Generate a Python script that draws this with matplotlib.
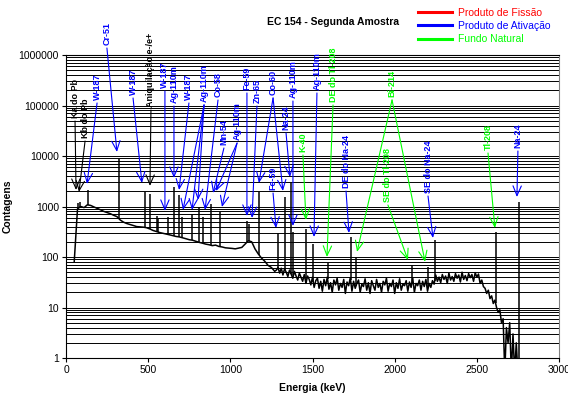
import numpy as np
import matplotlib
matplotlib.use('Agg')
import matplotlib.pyplot as plt
from matplotlib.lines import Line2D

plt.rcParams['font.family'] = ['Liberation Sans', 'DejaVu Sans']

# background continuum below 1280 keV, one value every 20 keV from 50 keV
low_start = 50
low_step = 20
low_counts = [
    80, 900, 1000, 950, 1080, 1050, 980, 920, 860, 800,
    760, 720, 670, 630, 540, 490, 460, 440, 420, 400,
    395, 390, 380, 360, 335, 320, 305, 295, 285, 275,
    265, 255, 250, 240, 230, 220, 215, 205, 195, 188,
    180, 175, 168, 172, 162, 158, 152, 150, 148, 145,
    150, 155, 180, 210, 200, 145, 115, 95, 82, 68,
    62, 52,
]
# noisy continuum from 1280 keV, one value every 10 keV
high_start = 1280
high_step = 10
high_counts = [
    55, 62, 48, 60, 44, 58, 50, 41, 55, 46,
    38, 52, 42, 35, 48, 40, 33, 45, 30, 42,
    36, 28, 40, 25, 34, 38, 24, 33, 21, 36,
    27, 40, 23, 31, 20, 35, 28, 38, 22, 30,
    25, 36, 19, 32, 27, 39, 21, 33, 24, 30,
    35, 20, 29, 26, 37, 22, 31, 19, 34, 27,
    22, 36, 25, 30, 20, 33, 28, 38, 21, 30,
    26, 35, 19, 31, 24, 37, 22, 29, 27, 34,
    21, 32, 25, 38, 20, 30, 27, 35, 22, 33,
    26, 36, 21, 30, 25, 34, 29, 44, 33, 40,
    31, 45, 36, 42, 30, 48, 35, 41, 33, 47,
    38, 44, 32, 50, 36, 43, 34, 47, 39, 45,
    33, 49, 40, 46, 30, 35, 26, 24, 19, 22,
    15, 17, 12, 14, 10, 8, 9, 5, 6, 0.5,
    4, 2, 5, 0.5, 3, 0.5, 2, 0.5,
]
cont_energy = np.concatenate([low_start + low_step * np.arange(len(low_counts)),
                              high_start + high_step * np.arange(len(high_counts))])
cont_counts = np.array(low_counts + high_counts)

# photopeaks (keV, counts at top)
peak_energy = [75, 85, 134, 320, 479, 511, 551, 558, 618, 658, 686, 707,
               764, 811, 835, 885, 937, 1099, 1116, 1173, 1292, 1332, 1369,
               1384, 1461, 1505, 1592, 1732, 1764, 2103, 2204, 2243, 2614, 2754]
peak_counts = [1150, 1250, 2100, 8700, 1950, 1750, 650, 600, 620, 2450, 1700, 620,
               700, 1000, 620, 1100, 770, 520, 450, 1950, 300, 1550, 3100,
               315, 360, 180, 76, 250, 100, 70, 63, 215, 315, 1230]

x_ticks = [0, 500, 1000, 1500, 2000, 2500, 3000]
y_ticks = [1, 10, 100, 1000, 10000, 100000, 1000000]
y_tick_labels = ['1', '10', '100', '1000', '10000', '100000', '1000000']

# annotations: text, colour, text bottom (keV, counts), arrow tips
fis = 'red'
act = 'blue'
nat = '#00ff00'
notes = [
    ('Ka do Pb', 'black', (55, 56500), [(61, 2120)]),
    ('Kb do Pb', 'black', (116, 22700), [(79, 1940)]),
    ('W-187', act, (189, 128500), [(128, 2790)]),
    ('Cr-51', act, (249, 1578000), [(310, 12000)]),
    ('W-187', act, (408, 161400), [(462, 2920)]),
    ('Aniquilação e-/e+', 'black', (517, 93400), [(511, 2550)]),
    ('W-187', act, (602, 222000), [(602, 815)]),
    ('Ag-110m', act, (657, 112000), [(657, 3670)]),
    ('W-187', act, (748, 128500), [(688, 2120)]),
    ('Ag-110m', act, (840, 117300), [(712, 853), (767, 853), (803, 1345)]),
    ('Co-58', act, (925, 147300), [(846, 853)]),
    ('Mn-54', act, (961, 16500), [(895, 1850)]),
    ('Ag-110m', act, (1041, 20700), [(913, 2030), (949, 977)]),
    ('Fe-59', act, (1101, 202800), [(1101, 648)]),
    ('Zn-65', act, (1162, 112000), [(1132, 592)]),
    ('Co-60', act, (1260, 161400), [(1174, 2920), (1320, 2030)]),
    ('Fe-59', act, (1260, 2120), [(1278, 375)]),
    ('Na-24', act, (1339, 32700), [(1363, 3840)]),
    ('Ag-110m', act, (1381, 140800), [(1381, 411)]),
    ('K-40', nat, (1442, 12000), [(1460, 540)]),
    ('Ag-110m', act, (1527, 202800), [(1509, 249)]),
    ('DE do Tl-208', nat, (1625, 117300), [(1588, 100)]),
    ('DE do Na-24', act, (1704, 2320), [(1722, 299)]),
    ('Bi-214', nat, (1984, 147300), [(1771, 126), (2185, 80)]),
    ('SE do Tl-208', nat, (1959, 1228), [(2081, 87)]),
    ('SE do Na-24', act, (2203, 1850), [(2233, 238)]),
    ('Tl-208', nat, (2568, 13150), [(2610, 375)]),
    ('Na-24', act, (2750, 14400), [(2744, 1540)]),
]

legend_labels = ['Produto de Fissão', 'Produto de Ativação', 'Fundo Natural']
legend_colors = [fis, act, nat]

fig = plt.figure(figsize=(5.68, 3.96), dpi=100)
ax = fig.add_axes([66/568, 1-358/396, 493/568, 303/396])

ax.set_yscale('log')
ax.set_xlim(0, 3000)
ax.set_ylim(1, 1000000)

ax.plot(cont_energy, cont_counts, color='black', lw=1.1)
base = np.interp(peak_energy, cont_energy, cont_counts)
ax.vlines(peak_energy, base, peak_counts, color='black', lw=1.1)

ax.set_xticks(x_ticks)
ax.set_xticklabels([str(t) for t in x_ticks], fontsize=7.5)
ax.set_yticks(y_ticks)
ax.set_yticklabels(y_tick_labels, fontsize=7.5)
ax.tick_params(axis='y', which='minor', length=0)
ax.tick_params(axis='both', which='major', length=3, width=0.8, pad=2)
ax.yaxis.grid(True, which='both', color='black', lw=0.7)
ax.set_axisbelow(True)
ax.spines['right'].set_color('#808080')

ax.set_xlabel('Energia (keV)', fontsize=7.5, fontweight='bold', labelpad=6)
ax.set_ylabel('Contagens', fontsize=7.5, fontweight='bold')
ax.yaxis.set_label_coords(-0.108, 0.5)

drop = 10 ** (-3 / 50.5)
for text, col, pos, tips in notes:
    ax.text(pos[0], pos[1], text, rotation=90, ha='center', va='bottom',
            color=col, fontsize=6.5, fontweight='bold', clip_on=False)
    for tip in tips:
        ax.annotate('', xy=tip, xytext=(pos[0], pos[1] * drop),
                    arrowprops=dict(arrowstyle='->,head_length=0.7,head_width=0.3',
                                    color=col, lw=0.8, shrinkA=0, shrinkB=0,
                                    mutation_scale=10),
                    annotation_clip=False)

fig.text(333/568, 1-22/396, 'EC 154 - Segunda Amostra', ha='center', va='center',
         fontsize=7.5, fontweight='bold')

handles = [Line2D([], [], color=c, lw=2.2) for c in legend_colors]
leg = fig.legend(handles, legend_labels, loc='upper left',
                 bbox_to_anchor=(418/568, 1-8/396), frameon=False,
                 fontsize=7.5, handlelength=3.3, handletextpad=0.5,
                 labelspacing=0.3, borderpad=0, borderaxespad=0)
for t, c in zip(leg.get_texts(), legend_colors):
    t.set_color(c)

fig.savefig('out.png', dpi=100)
